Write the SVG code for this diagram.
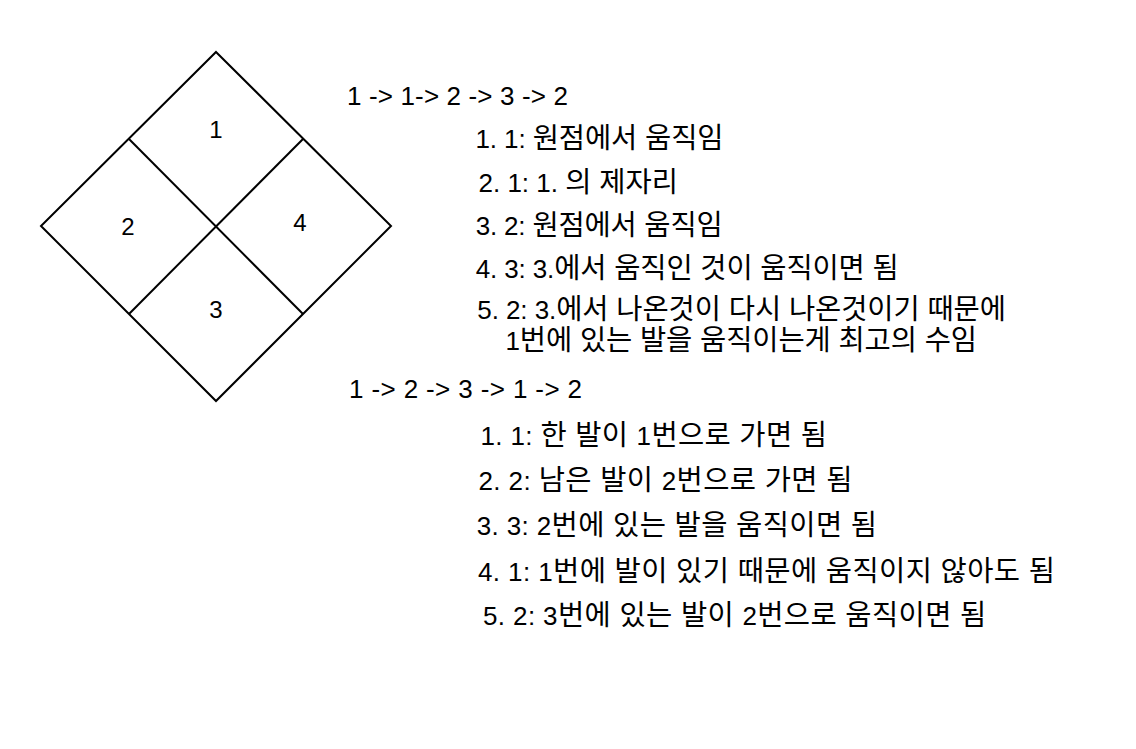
<svg xmlns="http://www.w3.org/2000/svg" width="1136" height="749" viewBox="0 0 1136 749">
<style>
.ln{fill:none;stroke:#000;stroke-width:2;stroke-linejoin:miter}
.t{font-family:"Liberation Sans","Noto Sans CJK KR",sans-serif;font-size:26px;fill:#000}
.k{font-size:28.5px}
.lb{font-family:"Liberation Sans",Arial,sans-serif;font-size:24px;fill:#000;text-anchor:middle}
</style>
<rect width="1136" height="749" fill="#fff"/>
<g id="board">
<polygon class="ln" points="216,52 391,226 216,401 41,226"/>
<line class="ln" x1="129" y1="139" x2="303" y2="314"/>
<line class="ln" x1="303" y1="139" x2="129" y2="314"/>
</g>
<g id="cell-1"><text class="lb" x="216" y="138">1</text></g>
<g id="cell-2"><text class="lb" x="128" y="235">2</text></g>
<g id="cell-3"><text class="lb" x="216" y="318">3</text></g>
<g id="cell-4"><text class="lb" x="300" y="231">4</text></g>
<g id="sequence-a">
<text class="t" x="347" y="105" textLength="221" lengthAdjust="spacing">1 -&gt; 1-&gt; 2 -&gt; 3 -&gt; 2</text>
<text class="t" x="475.5" y="148" textLength="248" lengthAdjust="spacing">1. 1: <tspan class="k">원점에서 움직임</tspan></text>
<text class="t" x="478.5" y="192">2. 1: 1. <tspan class="k">의 제자리</tspan></text>
<text class="t" x="475.7" y="235" textLength="247" lengthAdjust="spacing">3. 2: <tspan class="k">원점에서 움직임</tspan></text>
<text class="t" x="475.7" y="278" textLength="423" lengthAdjust="spacing">4. 3: 3.<tspan class="k">에서 움직인 것이 움직이면 됨</tspan></text>
<text class="t" x="477.3" y="319" textLength="528.7" lengthAdjust="spacing">5. 2: 3.<tspan class="k">에서 나온것이 다시 나온것이기 때문에</tspan></text>
<text class="t" x="505.5" y="350" textLength="471.5" lengthAdjust="spacing">1<tspan class="k">번에 있는 발을 움직이는게 최고의 수임</tspan></text>
</g>
<g id="sequence-b">
<text class="t" x="349" y="398" textLength="233" lengthAdjust="spacing">1 -&gt; 2 -&gt; 3 -&gt; 1 -&gt; 2</text>
<text class="t" x="480.5" y="445" textLength="346.5" lengthAdjust="spacing">1. 1: <tspan class="k">한 발이 </tspan>1<tspan class="k">번으로 가면 됨</tspan></text>
<text class="t" x="478.5" y="490" textLength="374" lengthAdjust="spacing">2. 2: <tspan class="k">남은 발이 </tspan>2<tspan class="k">번으로 가면 됨</tspan></text>
<text class="t" x="476.7" y="535" textLength="400.3" lengthAdjust="spacing">3. 3: 2<tspan class="k">번에 있는 발을 움직이면 됨</tspan></text>
<text class="t" x="478" y="580.5" textLength="577" lengthAdjust="spacing">4. 1: 1<tspan class="k">번에 발이 있기 때문에 움직이지 않아도 됨</tspan></text>
<text class="t" x="483" y="625" textLength="503.3" lengthAdjust="spacing">5. 2: 3<tspan class="k">번에 있는 발이 </tspan>2<tspan class="k">번으로 움직이면 됨</tspan></text>
</g>
<g id="connectors"></g>
</svg>
